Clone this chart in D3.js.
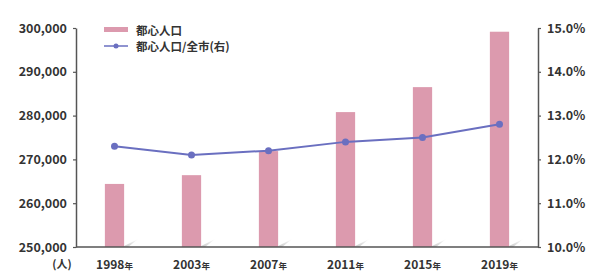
<!DOCTYPE html>
<html>
<head>
<meta charset="utf-8">
<script src="https://cdn.jsdelivr.net/npm/d3@7"></script>
<style>
  body { margin: 0; background: #fff; }
  text { font-family: "Noto Sans CJK JP", "Noto Sans", sans-serif; fill: #333; font-weight: 700; }
</style>
</head>
<body>
<script>
// data
var years = ["1998", "2003", "2007", "2011", "2015", "2019"];
var population = [264400, 266400, 271900, 280800, 286500, 299150];
var share = [12.3, 12.1, 12.2, 12.4, 12.5, 12.8];
var leftTicks = [250000, 260000, 270000, 280000, 290000, 300000];
var rightTicks = [10, 11, 12, 13, 14, 15];

drawChart();

function drawChart(){
    var width = 589, height = 277;
    var plotLeft = 76, plotRight = 538, plotTop = 28, plotBottom = 247;

    var svg = d3.select("body").append("svg")
        .attr("width", width)
        .attr("height", height);

    var defs = svg.append("defs");
    var grad = defs.append("linearGradient").attr("id", "shadow")
        .attr("x1", "0").attr("y1", "1").attr("x2", "1").attr("y2", "0");
    grad.append("stop").attr("offset", "0%").attr("stop-color", "#c4c4c4");
    grad.append("stop").attr("offset", "100%").attr("stop-color", "#ffffff");

    var x = d3.scaleBand().domain(years).range([plotLeft, plotRight]).paddingInner(0.75).paddingOuter(0.375);
    var yL = d3.scaleLinear().domain([250000, 300000]).range([plotBottom, plotTop]);
    var yR = d3.scaleLinear().domain([10, 15]).range([plotBottom, plotTop]);

    //bar shadows
    svg.selectAll(".shadow")
        .data(years)
        .enter()
        .append("path")
        .attr("fill", "url(#shadow)")
        .attr("d", function(d){
            var x0 = x(d) + x.bandwidth();
            return "M" + (x0 - 2) + "," + plotBottom + "L" + (x0 + 14) + "," + (plotBottom - 8) + "L" + (x0 + 4) + "," + plotBottom + "Z";
        });

    //bars
    svg.selectAll(".bar")
        .data(population)
        .enter()
        .append("rect")
        .attr("class", "bar")
        .attr("x", function(d, i){ return x(years[i]); })
        .attr("width", x.bandwidth())
        .attr("y", function(d){ return yL(d); })
        .attr("height", function(d){ return plotBottom - yL(d); })
        .attr("fill", "#dc9aae");

    //left axis
    var axisL = svg.append("g")
        .attr("transform", "translate(" + plotLeft + ",0)")
        .call(d3.axisLeft(yL).tickValues(leftTicks).tickSize(3).tickSizeOuter(0).tickPadding(6).tickFormat(d3.format(",")));

    //right axis
    var axisR = svg.append("g")
        .attr("transform", "translate(" + plotRight + ",0)")
        .call(d3.axisRight(yR).tickValues(rightTicks).tickSize(3).tickSizeOuter(0).tickPadding(6).tickFormat(function(d){ return d.toFixed(1) + "%"; }));

    [axisL, axisR].forEach(function(a){
        a.select(".domain").attr("stroke", "#555").attr("stroke-width", 1.5);
        a.selectAll(".tick line").attr("stroke", "#555").attr("stroke-width", 1.2);
        a.selectAll("text").attr("font-size", 12.5).style("font-family", "'Noto Sans CJK JP', sans-serif").attr("fill", "#333");
    });

    //baseline
    svg.append("line")
        .attr("x1", plotLeft).attr("x2", plotRight)
        .attr("y1", plotBottom).attr("y2", plotBottom)
        .attr("stroke", "#555").attr("stroke-width", 1.5);

    //year labels
    var xl = svg.selectAll(".xlab")
        .data(years)
        .enter()
        .append("text")
        .attr("x", function(d){ return x(d) + x.bandwidth() / 2; })
        .attr("y", 269)
        .attr("text-anchor", "middle")
        .attr("font-size", 12);
    xl.append("tspan").text(function(d){ return d; });
    xl.append("tspan").attr("font-size", 8.5).text("年");

    svg.append("text")
        .attr("x", 62).attr("y", 268)
        .attr("text-anchor", "middle")
        .attr("font-size", 11)
        .text("(人)");

    //line
    var line = d3.line()
        .x(function(d, i){ return x(years[i]) + x.bandwidth() / 2; })
        .y(function(d){ return yR(d); });

    svg.append("path")
        .datum(share)
        .attr("d", line)
        .attr("fill", "none")
        .attr("stroke", "#6a6fc0")
        .attr("stroke-width", 2);

    svg.selectAll(".dot")
        .data(share)
        .enter()
        .append("circle")
        .attr("cx", function(d, i){ return x(years[i]) + x.bandwidth() / 2; })
        .attr("cy", function(d){ return yR(d); })
        .attr("r", 3.5)
        .attr("fill", "#6a6fc0");

    //legend
    var legend = svg.append("g");
    legend.append("rect")
        .attr("x", 104).attr("y", 27).attr("width", 24).attr("height", 5)
        .attr("fill", "#dc9aae");
    legend.append("text")
        .attr("x", 136).attr("y", 34.5)
        .attr("font-size", 11.5)
        .text("都心人口");
    legend.append("line")
        .attr("x1", 104).attr("x2", 128).attr("y1", 46).attr("y2", 46)
        .attr("stroke", "#6a6fc0").attr("stroke-width", 1.5);
    legend.append("circle")
        .attr("cx", 116).attr("cy", 46).attr("r", 2.5)
        .attr("fill", "#6a6fc0");
    legend.append("text")
        .attr("x", 136).attr("y", 50.5)
        .attr("font-size", 11.5)
        .text("都心人口/全市(右)");
}
</script>
</body>
</html>
